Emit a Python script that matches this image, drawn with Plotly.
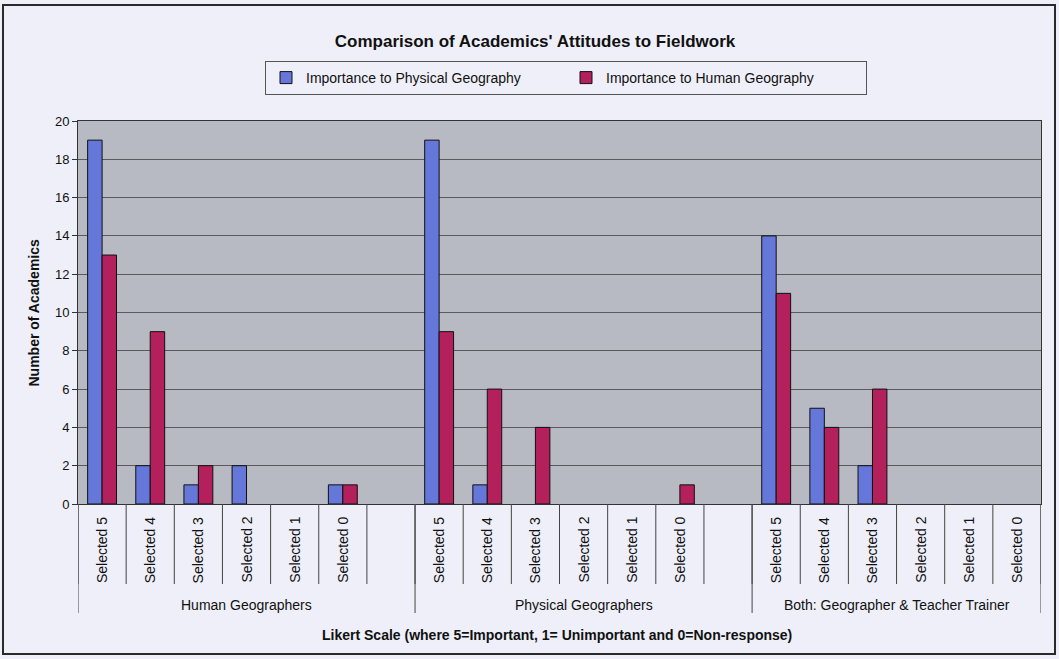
import plotly.graph_objects as go

groups = ["Human Geographers", "Physical Geographers", "Both: Geographer & Teacher Trainer"]
levels = ["Selected 5", "Selected 4", "Selected 3", "Selected 2", "Selected 1", "Selected 0"]
physical_imp = [[19, 2, 1, 2, 0, 1], [19, 1, 0, 0, 0, 0], [14, 5, 2, 0, 0, 0]]
human_imp = [[13, 9, 2, 0, 0, 1], [9, 6, 4, 0, 0, 1], [11, 4, 6, 0, 0, 0]]
series_names = ["Importance to Physical Geography", "Importance to Human Geography"]
y_ticks = [0, 2, 4, 6, 8, 10, 12, 14, 16, 18, 20]

BLUE = "#6677DA"
RED = "#B3205C"
PAPER = "#EEEFF8"
PLOTBG = "#B7B9C3"
FONT = "Liberation Sans, Arial, sans-serif"

# slot positions: each group = 6 categories + one blank slot (except last)
xs, yb, yr, labels = [], [], [], []
group_bounds = []
pos = 0
for gi, g in enumerate(groups):
    start = pos
    for li, lv in enumerate(levels):
        xs.append(pos)
        yb.append(physical_imp[gi][li])
        yr.append(human_imp[gi][li])
        labels.append(lv)
        pos += 1
    if gi < len(groups) - 1:
        pos += 1  # blank slot
    group_bounds.append((start - 0.5, pos - 0.5))
n_slots = pos

# zero counts draw no visible bar (as in the original chart)
yb_plot = [v if v else None for v in yb]
yr_plot = [v if v else None for v in yr]

fig = go.Figure()
fig.add_trace(go.Bar(x=xs, y=yb_plot, name=series_names[0], marker=dict(color=BLUE, line=dict(color="#111111", width=1))))
fig.add_trace(go.Bar(x=xs, y=yr_plot, name=series_names[1], marker=dict(color=RED, line=dict(color="#111111", width=1))))

plot_h = 504 - 121

def py(pix):
    return (504 - pix) / plot_h

plot_w = 1041 - 78
def px(pix):
    return (pix - 78) / plot_w

shapes = []
# slot separators
for i in range(n_slots + 1):
    shapes.append(dict(type="line", xref="x", yref="paper", x0=i - 0.5, x1=i - 0.5,
                       y0=0, y1=py(584), line=dict(color="#444444", width=1)))
# group separators
edges = sorted(set([b[0] for b in group_bounds] + [b[1] for b in group_bounds]))
for e in edges:
    shapes.append(dict(type="line", xref="x", yref="paper", x0=e, x1=e,
                       y0=0, y1=py(613), line=dict(color="#444444", width=1)))
# outer frame
shapes.append(dict(type="rect", xref="paper", yref="paper", x0=px(3), x1=px(1055),
                   y0=py(654), y1=py(5), line=dict(color="#2a2a2a", width=2), layer="below"))

annotations = []
for x, lab in zip(xs, labels):
    annotations.append(dict(x=x, y=py(515), xref="x", yref="paper", text=lab, textangle=-90,
                            showarrow=False, xanchor="center", yanchor="top",
                            font=dict(family=FONT, size=14, color="#111111")))
for (a, b), g in zip(group_bounds, groups):
    annotations.append(dict(x=(a + b) / 2, y=py(605), xref="x", yref="paper", text=g,
                            showarrow=False, xanchor="center", yanchor="middle",
                            font=dict(family=FONT, size=14, color="#111111")))
annotations.append(dict(x=px(557), y=py(635), xref="paper", yref="paper",
                        text="<b>Likert Scale (where 5=Important, 1= Unimportant and 0=Non-response)</b>",
                        showarrow=False, xanchor="center", yanchor="middle",
                        font=dict(family=FONT, size=14, color="#111111")))
annotations.append(dict(x=px(33), y=0.5, xref="paper", yref="paper",
                        text="<b>Number of Academics</b>", textangle=-90,
                        showarrow=False, xanchor="center", yanchor="middle",
                        font=dict(family=FONT, size=14, color="#111111")))

fig.update_layout(
    width=1059, height=659,
    margin=dict(l=78, r=1059 - 1041, t=121, b=659 - 504),
    paper_bgcolor=PAPER, plot_bgcolor=PLOTBG,
    barmode="group", bargap=0.4, bargroupgap=0,
    title=dict(text="<b>Comparison of Academics' Attitudes to Fieldwork</b>",
               x=535 / 1059, xref="container", xanchor="center",
               y=1 - 41 / 659, yref="container", yanchor="middle",
               font=dict(family=FONT, size=17, color="#111111")),
    legend=dict(orientation="h", x=px(265), y=py(61), xanchor="left", yanchor="top",
                bgcolor=PAPER, bordercolor="#555555", borderwidth=1,
                font=dict(family=FONT, size=14, color="#111111"),
                entrywidth=255, entrywidthmode="pixels", itemwidth=30, traceorder="normal"),
    xaxis=dict(range=[-0.5, n_slots - 0.5], showticklabels=False, showgrid=False,
               zeroline=False, showline=True, linecolor="#333333", linewidth=1, mirror=True,
               ticks=""),
    yaxis=dict(range=[0, 20], tickvals=y_ticks, showgrid=True, gridcolor="#5a5a5a", gridwidth=1,
               zeroline=False, showline=True, linecolor="#333333", linewidth=1, mirror=True,
               ticks="outside", ticklen=5, tickcolor="#333333",
               tickfont=dict(family=FONT, size=13, color="#111111")),
    shapes=shapes, annotations=annotations,
    showlegend=True,
)

fig.write_html("out.html")
